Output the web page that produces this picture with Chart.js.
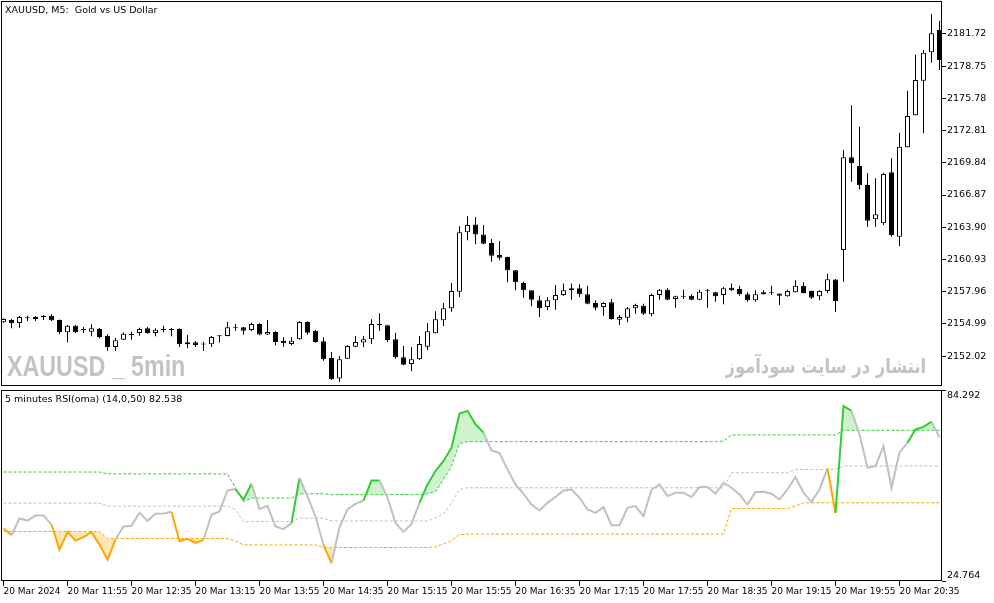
<!DOCTYPE html>
<html>
<head>
<meta charset="utf-8">
<script src="https://cdn.jsdelivr.net/npm/chart.js@4"></script>
<style>
  body { margin: 0; background: #fff; }
  #wrap { position: relative; width: 994px; height: 603px; overflow: hidden; font-family: "DejaVu Sans", sans-serif; }
  canvas { position: absolute; left: 0; }
  #main { top: 0; }
  #rsi { top: 382px; }
  .txt { position: absolute; white-space: nowrap; pointer-events: none; }
  #title { left: 5px; top: 4px; font-size: 9.5px; color: #000; }
  #rsiTitle { left: 5px; top: 393px; font-size: 9.5px; color: #000; }
  #mark { left: 7px; top: 349px; font: bold 30px "Liberation Sans", sans-serif; color: #c3c3c3; transform: scaleX(0.775); transform-origin: left top; }
  #markFa { right: 68px; top: 354px; font: bold 20px "DejaVu Sans", sans-serif; color: #c3c3c3; direction: rtl; transform: scaleX(0.815); transform-origin: right top; }
</style>
</head>
<body>
<div id="wrap">
  <canvas id="main" width="994" height="388"></canvas>
  <canvas id="rsi" width="994" height="221"></canvas>
  <div class="txt" id="title">XAUUSD, M5:&nbsp; Gold vs US Dollar</div>
  <div class="txt" id="rsiTitle">5 minutes RSI(oma) (14,0,50) 82.538</div>
  <div class="txt" id="mark">XAUUSD _ 5min</div>
  <div class="txt" id="markFa">انتشار در سایت سودآموز</div>
</div>
<script>
// bar times, 20 Mar 2024, M5
const times = ['11:15','11:20','11:25','11:30','11:35','11:40','11:45','11:50','11:55',
  '12:00','12:05','12:10','12:15','12:20','12:25','12:30','12:35','12:40','12:45','12:50','12:55',
  '13:00','13:05','13:10','13:15','13:20','13:25','13:30','13:35','13:40','13:45','13:50','13:55',
  '14:00','14:05','14:10','14:15','14:20','14:25','14:30','14:35','14:40','14:45','14:50','14:55',
  '15:00','15:05','15:10','15:15','15:20','15:25','15:30','15:35','15:40','15:45','15:50','15:55',
  '16:00','16:05','16:10','16:15','16:20','16:25','16:30','16:35','16:40','16:45','16:50','16:55',
  '17:00','17:05','17:10','17:15','17:20','17:25','17:30','17:35','17:40','17:45','17:50','17:55',
  '18:00','18:05','18:10','18:15','18:20','18:25','18:30','18:35','18:40','18:45','18:50','18:55',
  '19:00','19:05','19:10','19:15','19:20','19:25','19:30','19:35','19:40','19:45','19:50','19:55',
  '20:00','20:05','20:10','20:15','20:20','20:25','20:30','20:35','20:40','20:45','20:50','20:55',
  '21:00'];
const dayLabel = '20 Mar';
const firstLabel = '20 Mar 2024';

// OHLC
const open = [2155.14,2155.35,2155.07,2155.56,2155.44,2155.62,2155.74,2155.35,2154.21,2154.82,
  2154.42,2154.27,2154.52,2153.90,2152.86,2153.53,2153.96,2154.15,2154.58,2154.15,
  2154.43,2154.52,2154.52,2153.29,2153.29,2153.08,2153.11,2153.84,2153.87,2154.64,
  2154.67,2154.42,2154.98,2154.00,2154.24,2153.44,2153.13,2153.57,2155.16,2154.36,
  2153.38,2151.84,2149.96,2151.78,2152.89,2153.26,2153.57,2154.98,2154.86,2153.57,
  2151.91,2151.29,2151.72,2152.89,2154.12,2155.32,2156.43,2157.96,2163.43,2164.16,
  2163.24,2162.44,2161.34,2161.15,2159.93,2158.76,2158.08,2157.16,2156.54,2157.16,
  2157.65,2158.08,2158.27,2157.72,2156.91,2156.54,2156.98,2155.38,2155.56,2156.43,
  2156.67,2155.87,2157.65,2158.14,2157.28,2157.45,2157.59,2157.22,2158.00,2157.90,
  2157.65,2158.33,2158.20,2157.72,2157.16,2157.72,2157.82,2157.78,2157.53,2157.90,
  2158.51,2158.02,2157.53,2158.02,2159.08,2161.80,2170.35,2169.54,2167.79,2164.63,
  2164.26,2168.96,2163.03,2171.27,2174.22,2177.41,2180.03,2182.08];
const high = [2155.50,2155.44,2155.71,2155.74,2155.71,2155.81,2155.87,2155.40,2154.88,2154.88,
  2154.70,2154.95,2154.61,2154.03,2153.71,2154.21,2154.27,2154.64,2154.70,2154.58,
  2154.82,2154.61,2154.58,2153.96,2153.41,2153.35,2153.87,2153.92,2155.16,2154.98,
  2154.70,2155.10,2155.04,2155.35,2154.30,2153.75,2153.75,2155.23,2155.23,2154.42,
  2153.75,2152.40,2152.03,2153.01,2153.87,2153.87,2155.41,2155.96,2154.90,2154.18,
  2152.95,2152.83,2153.87,2155.04,2156.15,2156.91,2158.76,2163.98,2164.91,2164.84,
  2164.10,2162.81,2162.63,2161.18,2159.96,2158.88,2158.10,2157.59,2157.47,2158.57,
  2158.70,2158.70,2158.64,2158.51,2157.16,2156.98,2157.28,2155.81,2156.54,2156.85,
  2156.85,2157.77,2158.20,2158.27,2157.59,2158.14,2157.72,2158.14,2158.20,2157.96,
  2158.39,2158.70,2158.51,2157.90,2158.08,2158.08,2158.51,2157.80,2158.14,2159.00,
  2158.82,2158.04,2158.08,2159.61,2159.13,2171.02,2175.14,2173.17,2168.87,2168.41,
  2168.93,2170.26,2172.62,2176.49,2179.81,2180.24,2183.56,2182.94];
const low = [2155.07,2154.58,2154.64,2155.25,2155.25,2155.35,2155.25,2154.03,2153.29,2154.15,
  2154.15,2153.84,2153.66,2152.49,2152.49,2153.50,2153.53,2153.90,2154.08,2153.84,
  2154.21,2153.84,2152.86,2152.74,2152.86,2152.49,2152.86,2153.27,2153.84,2154.36,
  2153.99,2154.30,2153.94,2153.97,2153.01,2152.88,2153.01,2153.53,2153.99,2153.25,
  2151.59,2149.82,2149.63,2151.75,2152.83,2152.83,2153.13,2154.36,2153.32,2151.78,
  2151.18,2150.62,2151.66,2152.58,2154.10,2154.79,2156.11,2157.47,2162.69,2162.32,
  2162.32,2160.72,2160.85,2158.82,2158.08,2157.40,2156.61,2155.62,2156.24,2156.30,
  2157.59,2157.22,2157.47,2156.79,2156.24,2155.74,2155.38,2154.88,2155.13,2155.93,
  2155.81,2155.68,2157.22,2157.16,2156.48,2157.28,2157.16,2157.16,2156.48,2157.03,
  2156.79,2158.02,2157.59,2157.03,2157.03,2157.70,2157.65,2156.73,2157.50,2157.88,
  2157.82,2157.28,2157.16,2157.81,2156.08,2158.88,2168.10,2167.40,2163.95,2163.95,
  2164.10,2163.03,2162.17,2171.25,2174.20,2172.56,2179.07,2178.40];
const close = [2155.44,2155.04,2155.62,2155.50,2155.62,2155.65,2155.32,2154.21,2154.82,2154.21,
  2154.47,2154.58,2153.78,2152.86,2153.47,2154.08,2153.99,2154.52,2154.15,2154.45,
  2154.47,2154.40,2153.11,2153.11,2153.04,2153.13,2153.78,2153.90,2154.67,2154.70,
  2154.36,2154.98,2154.00,2154.24,2153.32,2153.20,2153.44,2155.16,2154.18,2153.32,
  2151.72,2149.88,2151.72,2152.95,2153.32,2153.57,2154.98,2154.86,2153.50,2151.91,
  2151.22,2151.72,2153.13,2154.30,2155.41,2156.43,2158.02,2163.43,2164.10,2163.24,
  2162.38,2161.27,2161.09,2159.93,2158.82,2158.08,2157.22,2156.43,2157.16,2157.65,
  2158.08,2158.27,2157.72,2156.85,2156.48,2156.91,2155.44,2155.62,2156.43,2156.73,
  2155.93,2157.65,2158.14,2157.22,2157.53,2157.49,2157.22,2157.96,2158.04,2157.53,
  2158.27,2158.08,2157.72,2157.16,2157.72,2157.90,2157.86,2157.59,2158.02,2158.51,
  2157.84,2157.40,2158.02,2159.10,2157.07,2170.35,2169.79,2167.77,2164.50,2165.09,
  2168.81,2163.18,2171.32,2174.16,2177.47,2179.99,2181.78,2179.33];
const priceTicks = [2152.02, 2154.99, 2157.96, 2160.93, 2163.90, 2166.87, 2169.84, 2172.81, 2175.78, 2178.75, 2181.72];
const priceMin = 2149.26;
const priceMax = 2184.76;

// RSI(oma) and its dynamic levels
const rsi = [41.10,39.04,44.23,43.60,45.17,45.17,42.36,34.54,40.00,37.35,
  38.42,40.00,36.10,31.42,37.67,41.73,41.95,46.01,43.51,45.70,
  45.79,46.32,37.17,37.89,36.64,37.60,45.38,46.42,52.98,53.42,
  50.10,55.07,47.17,48.20,41.73,40.92,42.79,56.86,51.11,44.85,
  36.01,30.29,41.50,47.04,48.82,49.85,56.10,56.10,50.70,42.88,
  40.07,42.57,49.13,54.85,59.04,62.17,66.32,76.95,77.79,73.60,
  71.01,65.48,64.67,59.54,54.85,51.95,48.60,46.73,49.13,50.92,
  52.98,53.29,50.70,47.04,46.01,47.79,42.17,42.17,47.57,48.10,
  44.98,53.20,54.85,51.23,52.26,52.26,50.92,54.04,54.04,51.95,
  55.38,53.82,51.73,48.60,52.48,52.57,51.95,50.17,53.29,57.17,
  52.26,49.45,53.29,59.85,46.01,79.35,77.79,70.48,60.07,60.60,
  66.85,53.82,64.76,67.88,72.00,72.79,74.45,69.45];
const upperLevel = [58.73,58.73,58.73,58.73,58.73,58.73,58.73,58.73,58.73,58.73,
  58.73,58.73,58.73,58.15,58.15,58.15,58.15,58.15,58.15,58.15,
  58.15,58.15,58.15,58.15,58.15,58.15,58.15,58.15,58.15,53.73,
  49.50,50.60,50.60,50.60,50.60,50.60,50.60,51.95,51.95,51.95,
  51.95,51.70,51.70,51.70,51.70,51.70,51.70,51.70,51.70,51.70,
  51.70,51.70,51.70,51.95,52.57,56.42,60.60,67.57,68.20,68.20,
  68.20,68.20,68.20,68.20,68.20,68.20,68.20,68.20,68.20,68.20,
  68.20,68.20,68.20,68.20,68.20,68.20,68.20,68.20,68.20,68.20,
  68.20,68.20,68.20,68.20,68.20,68.20,68.20,68.20,68.20,68.20,
  68.40,70.29,70.29,70.29,70.29,70.29,70.29,70.29,70.29,70.29,
  70.29,70.29,70.29,70.29,70.29,71.73,71.73,71.73,71.73,71.73,
  71.73,71.73,71.73,71.73,71.73,71.73,71.73,71.73];
const midLevel = [49.04,49.04,49.04,49.04,49.04,49.04,49.04,49.04,49.04,49.04,
  49.04,49.04,49.04,48.10,48.10,48.10,48.10,48.10,48.10,48.10,
  48.10,48.10,48.10,48.10,48.10,48.10,48.10,48.10,48.10,46.95,
  43.29,43.29,43.29,43.29,43.29,43.29,43.29,44.35,44.35,44.35,
  44.35,43.50,43.50,43.50,43.50,43.50,43.50,43.50,43.50,43.50,
  43.50,43.50,43.50,43.50,44.45,45.70,49.13,53.29,53.82,53.82,
  53.82,53.82,53.82,53.82,53.82,53.82,53.82,53.82,53.82,53.82,
  53.82,53.82,53.82,53.82,53.82,53.82,53.82,53.82,53.82,53.82,
  53.82,53.82,53.82,53.82,53.82,53.82,53.82,53.82,53.82,53.82,
  53.82,58.51,58.51,58.51,58.51,58.51,58.51,58.51,58.51,59.54,
  59.54,59.54,59.54,59.54,59.54,60.60,60.60,60.60,60.60,60.60,
  60.60,60.60,60.60,60.60,60.60,60.60,60.60,60.60];
const lowerLevel = [40.20,40.20,40.20,40.20,40.20,40.20,40.20,40.20,40.20,40.20,
  40.20,40.20,40.20,38.00,38.00,38.00,38.00,38.00,38.00,38.00,
  38.00,38.00,38.00,38.00,38.00,38.00,38.00,38.00,38.00,37.26,
  36.01,36.01,36.01,36.01,36.01,36.01,36.01,36.01,36.01,36.01,
  35.20,35.20,35.20,35.20,35.20,35.20,35.20,35.20,35.20,35.20,
  35.20,35.20,35.20,35.20,35.38,36.32,37.35,39.14,39.40,39.40,
  39.40,39.40,39.40,39.40,39.40,39.40,39.40,39.40,39.40,39.40,
  39.40,39.40,39.40,39.40,39.40,39.40,39.40,39.40,39.40,39.40,
  39.40,39.40,39.40,39.40,39.40,39.40,39.40,39.40,39.40,39.40,
  39.40,47.35,47.35,47.35,47.35,47.35,47.35,47.35,47.35,48.10,
  49.13,49.13,49.13,49.13,49.13,49.13,49.13,49.13,49.13,49.13,
  49.13,49.13,49.13,49.13,49.13,49.13,49.13,49.13];
const rsiMin = 24.764;
const rsiMax = 84.292;

const GREEN = '#32cd32', ORANGE = '#ffa500', SILVER = '#c0c0c0';

Chart.defaults.font.family = 'DejaVu Sans';
Chart.defaults.font.size = 9.5;
Chart.defaults.color = '#000';
Chart.defaults.animation = false;

// black frame round the plot area, MT5 style
const frame = {
  id: 'frame',
  afterDatasetsDraw(chart) {
    const a = chart.chartArea, ctx = chart.ctx;
    ctx.save();
    ctx.strokeStyle = '#000';
    ctx.lineWidth = 1;
    ctx.strokeRect(Math.round(a.left) + 0.5, Math.round(a.top) + 0.5,
      Math.round(a.right - a.left) - 1, Math.round(a.bottom - a.top) - 1);
    ctx.restore();
  }
};

// right-hand axis: fixed width and no extra room for half labels
const fitRight = s => { s.width = 52; s.paddingTop = 0; s.paddingBottom = 0; };

const xTicks = times.map((t, i) => i).filter(i => i % 8 === 0);
const xRange = { min: -0.3125, max: 117.3125 };

// CANDLES
const wicks = times.map((t, i) => ({ x: i, y: [low[i], high[i]] }));
const bodies = times.map((t, i) => ({ x: i, y: [Math.min(open[i], close[i]), Math.max(open[i], close[i])] }));
const bodyFill = times.map((t, i) => close[i] >= open[i] ? '#ffffff' : '#000000');

new Chart(document.getElementById('main'), {
  type: 'bar',
  data: {
    datasets: [
      { data: bodies, backgroundColor: bodyFill, borderColor: '#000', borderWidth: 1,
        borderSkipped: false, barThickness: 5, minBarLength: 1, grouped: false, inflateAmount: 0, order: 1 },
      { data: wicks, backgroundColor: '#000', borderWidth: 0,
        barThickness: 1, grouped: false, inflateAmount: 0, order: 2 }
    ]
  },
  options: {
    responsive: false,
    devicePixelRatio: 1,
    layout: { padding: { left: 1, top: 1, right: 0, bottom: 2 } },
    plugins: { legend: { display: false }, tooltip: { enabled: false } },
    scales: {
      x: { type: 'linear', display: false, offset: false, ...xRange },
      y: {
        position: 'right', min: priceMin, max: priceMax,
        afterBuildTicks: s => { s.ticks = priceTicks.map(v => ({ value: v })); },
        afterFit: fitRight,
        grid: { drawOnChartArea: false, drawTicks: true, tickLength: 4, color: '#000' },
        border: { display: false },
        ticks: { padding: 1, callback: v => v.toFixed(2) }
      }
    }
  },
  plugins: [frame]
});

// RSI WINDOW
const pts = arr => arr.map((v, i) => ({ x: i, y: v }));
const lineColor = i => rsi[i] > upperLevel[i] ? GREEN : (rsi[i] < lowerLevel[i] ? ORANGE : SILVER);

new Chart(document.getElementById('rsi'), {
  type: 'line',
  data: {
    datasets: [
      { data: pts(rsi), borderWidth: 2, pointRadius: 0, tension: 0, fill: false,
        borderColor: SILVER, segment: { borderColor: c => lineColor(c.p1DataIndex) } },
      { data: pts(rsi), borderWidth: 0, borderColor: 'transparent', pointRadius: 0,
        fill: { target: 3, above: 'rgba(50,205,50,0.24)', below: 'transparent' } },
      { data: pts(rsi), borderWidth: 0, borderColor: 'transparent', pointRadius: 0,
        fill: { target: 5, above: 'transparent', below: 'rgba(255,165,0,0.28)' } },
      { data: pts(upperLevel), borderColor: GREEN, borderWidth: 1, borderDash: [3, 2], pointRadius: 0, fill: false },
      { data: pts(midLevel), borderColor: SILVER, borderWidth: 1, borderDash: [3, 2], pointRadius: 0, fill: false },
      { data: pts(lowerLevel), borderColor: ORANGE, borderWidth: 1, borderDash: [3, 2], pointRadius: 0, fill: false }
    ]
  },
  options: {
    responsive: false,
    devicePixelRatio: 1,
    layout: { padding: { left: 1, top: 8, right: 0, bottom: 0 } },
    plugins: { legend: { display: false }, tooltip: { enabled: false } },
    scales: {
      x: {
        type: 'linear', offset: false, ...xRange,
        afterBuildTicks: s => { s.ticks = xTicks.map(v => ({ value: v })); },
        afterFit: s => { s.height = 22; s.paddingLeft = 0; s.paddingRight = 0; },
        grid: { drawOnChartArea: false, drawTicks: true, tickLength: 5, color: '#000' },
        border: { display: false },
        ticks: { align: 'start', padding: 0, maxRotation: 0, autoSkip: false, font: { size: 9 },
          callback: v => v === 0 ? firstLabel : dayLabel + ' ' + times[v] }
      },
      y: {
        position: 'right', min: rsiMin, max: rsiMax,
        afterBuildTicks: s => { s.ticks = [rsiMin, rsiMax].map(v => ({ value: v })); },
        afterFit: fitRight,
        grid: { drawOnChartArea: false, drawTicks: true, tickLength: 4, color: '#000' },
        border: { display: false },
        ticks: { padding: 1, callback: v => v === rsiMax ? ['', v.toFixed(3)] : [v.toFixed(3), ''] }
      }
    }
  },
  plugins: [frame]
});
</script>
</body>
</html>
